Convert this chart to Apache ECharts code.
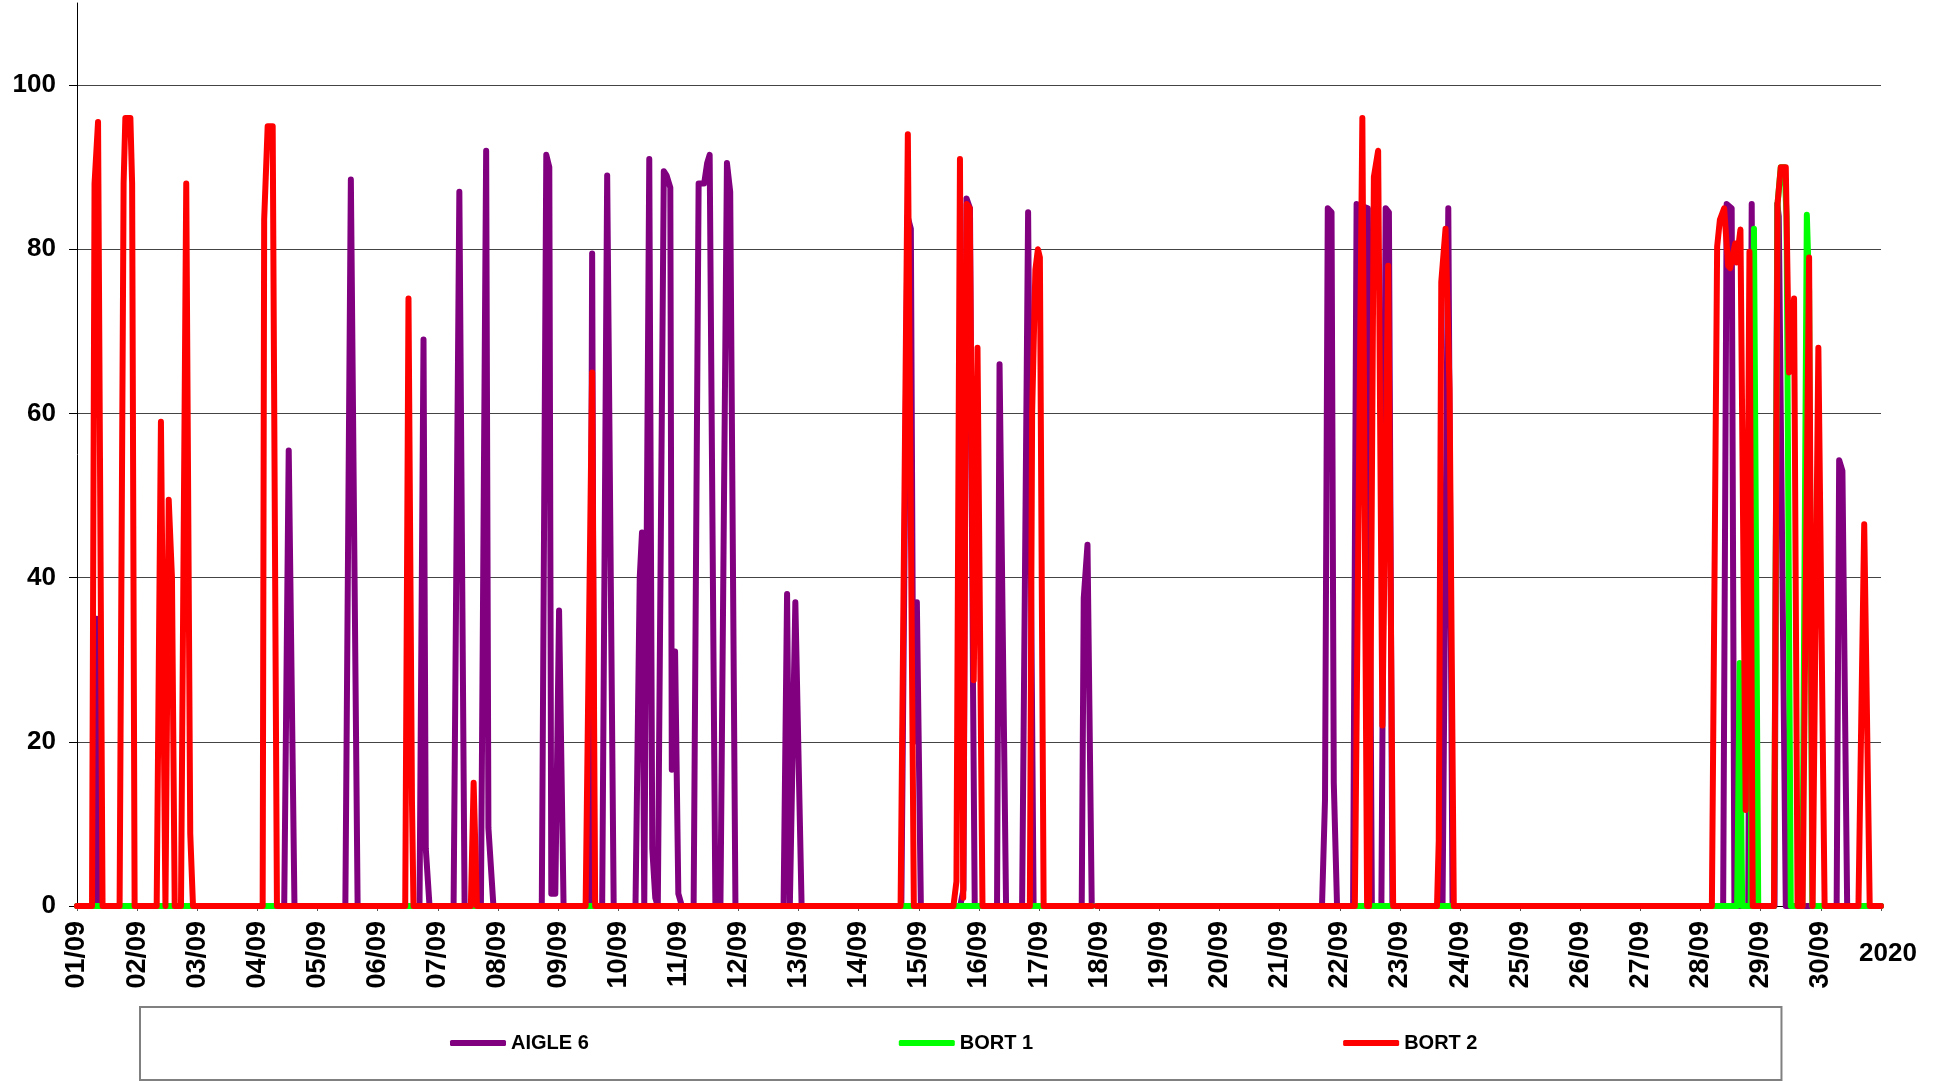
<!DOCTYPE html>
<html>
<head>
<meta charset="utf-8">
<script src="https://cdn.jsdelivr.net/npm/echarts@6/dist/echarts.min.js"></script>
<style>
  html, body { margin: 0; padding: 0; background: #fff; }
  #chart { width: 1942px; height: 1081px; }
</style>
</head>
<body>
<div id="chart"></div>
<script>
// x = hours since 01/09 00:00, y = value
const DAY_LABELS = ['01/09','02/09','03/09','04/09','05/09','06/09','07/09','08/09','09/09','10/09',
  '11/09','12/09','13/09','14/09','15/09','16/09','17/09','18/09','19/09','20/09',
  '21/09','22/09','23/09','24/09','25/09','26/09','27/09','28/09','29/09','30/09'];
const YEAR_LABEL = '2020';
const SERIES_NAMES = ['AIGLE 6', 'BORT 1', 'BORT 2'];

const AIGLE6 = [
  [0,0],
  [7.5,0],[7.9,35],[8.3,0],
  [82.7,0],[84.5,55.5],[86.8,0],
  [107.1,0],[109.3,88.5],[112,0],
  [136.7,0],[138.3,69],[139.2,7],[140.7,0],
  [150.3,0],[152.6,87],[154.7,0],
  [161.2,0],[163.3,92],[164.2,9.5],[166.2,0],
  [185.5,0],[187.3,91.5],[188.5,90],[189.3,1.5],[190.9,1.5],[192.4,36],[194.2,0],
  [204.7,0],[205.6,79.5],[206.5,0],
  [209.6,0],[211.6,89],[214.2,0],
  [222.9,0],[224.6,40],[225.5,45.5],[226.4,0],[228.4,91],[229.6,7],[230.8,1],[231.8,0],
  [232.2,0],[234.2,89.5],[235.3,89],[236.8,87.5],[237.4,16.6],[238.7,31],[240,1.5],[241.4,0],
  [246.1,0],[248.1,88],[250.3,88],[251.5,90.5],[252.5,91.5],[254.8,0],
  [256.8,0],[259.4,90.5],[260.7,87],[262.8,0],
  [282,0],[283.4,38],[284.5,0],[286.7,37],[289.2,0],
  [329,0],[331.5,84],[332.8,82.5],[333.8,20],[335.2,37],[336.8,0],
  [352.5,0],[353.8,2],[355,86.2],[356.4,85],[357.6,27.3],[358.3,0],
  [367.2,0],[368.2,66],[370.8,0],
  [377.2,0],[379.6,84.5],[381.8,0],
  [401,0],[401.8,37.5],[403.3,44],[405,0],[406,null],[407,0],
  [496.9,0],[498.1,13],[499.2,85],[500.7,84.5],[501.6,15],[502.9,0],
  [509.3,0],[510.7,85.5],[515.2,85],[516.8,0],[520.6,0],[522.3,85],[523.6,84.5],[525,0],
  [545,0],[547.3,85],[549,0],
  [657,0],[658.4,85.5],[660.4,85],[661.5,0],
  [667,0],[668.4,85.5],[669.6,0],
  [677.5,0],[678.6,85.5],[679.2,84],[682,0],
  [702.3,0],[703.3,54.3],[704.6,53],[706.5,0],
  [720,0]
];

const BORT1 = [
  [0,0],
  [405,0],[406,null],[407,0],
  [662.6,0],[663.6,29.6],[664.6,0],
  [668,0],[669.3,82.5],[671,0],
  [677.3,0],[678.7,85.5],[680,90],[681.5,90],[682.3,84],[684,0],
  [688.6,0],[690.4,84.2],[691.3,75],[692.6,0],
  [720,0]
];

const BORT2 = [
  [0,0],
  [6,0],[7,88],[8.4,95.5],[8.9,95.5],[10.2,0],
  [17,0],[18.6,88],[19.3,96],[21.3,96],[22,88],[23,0],
  [31.8,0],[33.5,59],[35.3,0],[36.6,49.5],[37.9,40],[39,0],
  [41.5,0],[43.6,88],[45.2,8.8],[46.3,0],
  [74.1,0],[74.7,83.6],[76.1,95],[78.1,95],[79.8,0],
  [131,0],[132.3,74],[133.7,12.5],[134.3,0],
  [157.2,0],[158.3,15],[159.6,0],
  [203,0],[205.6,65],[206.8,0],
  [328.7,0],[331.6,94],[334,0],
  [349.8,0],[351,3],[352.4,91],[353.7,1],[355.1,85.5],[356.3,85],[357.9,27.5],[359.4,68],[361.4,0],
  [380.3,0],[381.2,60],[382.5,77.5],[383.5,80],[384.3,79],[385.8,0],
  [405,0],[406,null],[407,0],
  [510,0],[513,96],[514.9,0],[515.7,0],[517.6,88.8],[519.3,92],[521,22],[523.3,78],[525.3,0],
  [542.8,0],[543.5,8],[544.5,76],[546.2,82.5],[547.8,63],[549.5,0],
  [652.5,0],[654.6,80.3],[655.7,83.6],[657.4,85],[659,78],[659.8,77.7],[661.8,80.7],[662.3,78.4],[663.9,82.4],[666,11.7],[667.5,79.7],[668.8,0],
  [677.3,0],[678.7,85.5],[680,90],[682,90],[683.3,65],[685.3,74],[686.7,0],
  [688.7,0],[691.3,79],[692.7,0],[695,68],[697.5,0],
  [711,0],[713.3,46.5],[715.5,0],
  [720,0]
];

const COLORS = ['#800080', '#00ff00', '#ff0000'];
const FONT = '"Liberation Sans", Arial, sans-serif';

const chart = echarts.init(document.getElementById('chart'), null, { renderer: 'canvas' });

function lineSeries(name, data, color) {
  return {
    name: name,
    type: 'line',
    data: data,
    showSymbol: false,
    symbol: 'none',
    connectNulls: false,
    lineStyle: { color: color, width: 6, cap: 'round', join: 'round' },
    itemStyle: { color: color },
    emphasis: { disabled: true }
  };
}

chart.setOption({
  animation: false,
  backgroundColor: '#fff',
  grid: { left: 77, right: 61, top: 3, bottom: 175, containLabel: false },
  xAxis: {
    type: 'value', min: 0, max: 720, interval: 24,
    axisLine: { show: true, onZero: true, lineStyle: { color: '#000', width: 1 } },
    axisTick: { show: true, length: 5, lineStyle: { color: '#555' } },
    splitLine: { show: false },
    axisLabel: {
      rotate: 90, margin: 15, fontSize: 27, fontWeight: 'bold', color: '#000', fontFamily: FONT,
      showMaxLabel: true,
      formatter: function (v) { return DAY_LABELS[Math.round(v / 24)] || ''; }
    }
  },
  yAxis: {
    type: 'value', min: 0, max: 110, interval: 20,
    axisLine: { show: true, lineStyle: { color: '#000', width: 1 } },
    axisTick: { show: true, length: 8, lineStyle: { color: '#000' } },
    splitLine: { show: true, showMaxLine: false, lineStyle: { color: '#444', width: 1 } },
    axisLabel: {
      margin: 21, fontSize: 26, fontWeight: 'bold', color: '#000', fontFamily: FONT,
      showMaxLabel: false,
      formatter: function (v) { return v > 100 ? '' : String(v); }
    }
  },
  legend: {
    left: 140, top: 1007,
    orient: 'horizontal',
    icon: 'roundRect',
    itemGap: 310, itemWidth: 56, itemHeight: 6,
    padding: [26, 304, 27, 310],
    borderColor: '#808080', borderWidth: 2,
    selectedMode: false,
    textStyle: { fontSize: 20, fontWeight: 'bold', color: '#000', fontFamily: FONT, lineHeight: 20 },
    data: SERIES_NAMES
  },
  graphic: [{
    type: 'text', left: 1859, top: 941,
    style: { text: YEAR_LABEL, font: 'bold 26px ' + FONT, fill: '#000' }
  }],
  series: [
    lineSeries(SERIES_NAMES[0], AIGLE6, COLORS[0]),
    lineSeries(SERIES_NAMES[1], BORT1, COLORS[1]),
    lineSeries(SERIES_NAMES[2], BORT2, COLORS[2])
  ]
});
</script>
</body>
</html>
